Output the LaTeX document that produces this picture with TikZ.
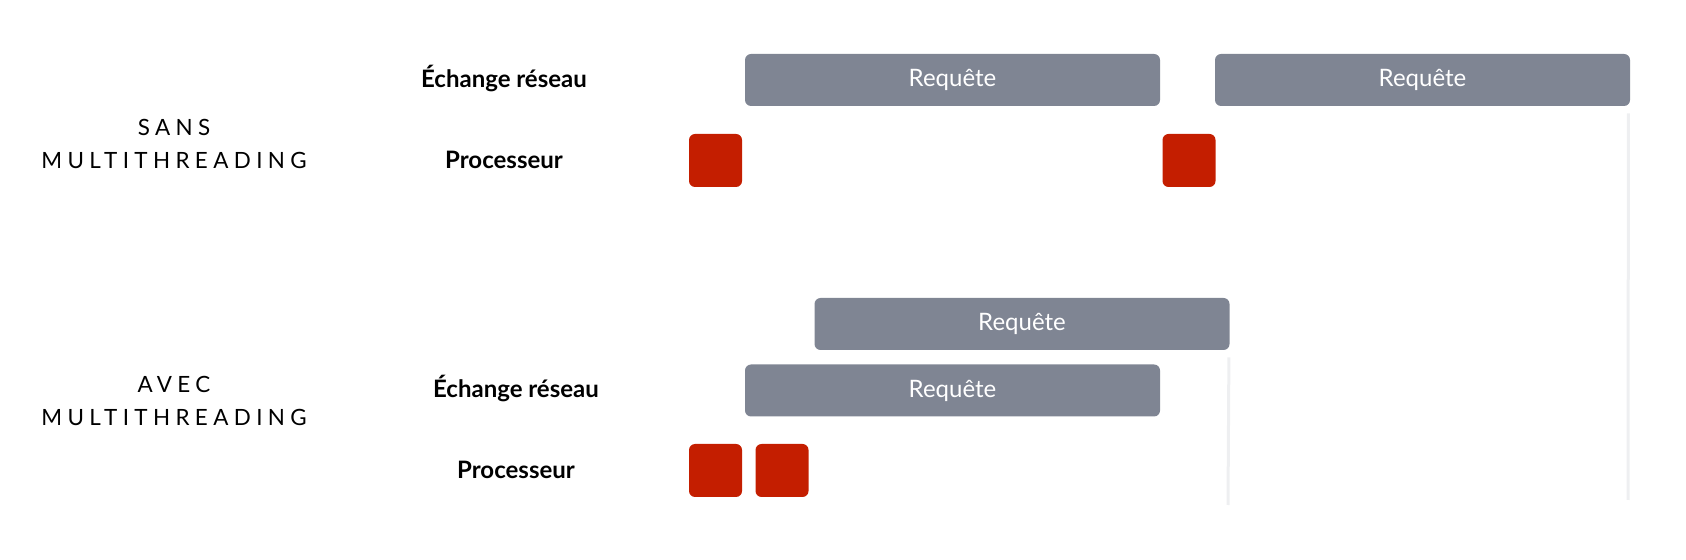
\documentclass[tikz,border=0pt]{standalone}
\usepackage{fontspec}
\setmainfont{Lato}
\newfontfamily\spaced[LetterSpace=24]{Lato}
\definecolor{reqgray}{HTML}{7F8593}
\definecolor{cpured}{HTML}{C41E00}
\definecolor{lanegray}{HTML}{EEEFF1}
\tikzset{
  requete/.style={fill=reqgray, rounded corners=3pt, minimum width=207.5pt,
    minimum height=26pt, inner sep=0pt, text=white, font=\fontsize{12}{14}\selectfont},
  calcul/.style={fill=cpured, rounded corners=3pt, minimum size=26.5pt, inner sep=0pt},
  piste/.style={anchor=base, font=\bfseries\fontsize{12}{14}\selectfont},
  titre/.style={anchor=base, align=center, font=\spaced\fontsize{11.2}{16.5}\selectfont},
  fin/.style={draw=lanegray, line width=1.5pt}
}
\begin{document}
\begin{tikzpicture}[x=0.5pt, y=-0.5pt]
\useasboundingbox (0, 0) rectangle (1686, 560);

% sans multithreading
\node[titre] (sans) at (174, 169) {SANS\\MULTITHREADING};
\node[piste] (reseauA) at (504, 88) {Échange réseau};
\node[piste] (procA) at (504, 169) {Processeur};

\node[requete] (reqA) at (952.5, 80) {Requête};
\node[requete] (reqB) at (1422.5, 80) {Requête};
\node[calcul] (cpuA) at (715.5, 160.5) {};
\node[calcul] (cpuB) at (1189, 160.5) {};

\coordinate (finA) at (1628, 500);
\draw[fin] ([xshift=-1pt, yshift=-3.5pt]reqB.south east) -- (finA);

% avec multithreading
\node[titre] (avec) at (174, 426) {AVEC\\MULTITHREADING};
\node[piste] (reseauB) at (516, 398) {Échange réseau};
\node[piste] (procB) at (516, 479) {Processeur};

\node[requete] (reqC) at (1022, 324) {Requête};
\node[requete] (reqD) at (952.5, 390.5) {Requête};
\node[calcul] (cpuC) at (715.5, 470.5) {};
\node[calcul] (cpuD) at (782, 470.5) {};

\coordinate (finB) at (1228, 505);
\draw[fin] ([xshift=-0.5pt, yshift=-3.5pt]reqC.south east) -- (finB);
\end{tikzpicture}
\end{document}
